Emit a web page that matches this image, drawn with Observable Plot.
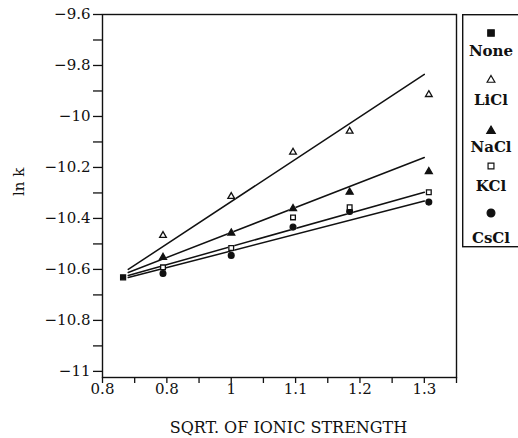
<!DOCTYPE html>
<html><head><meta charset="utf-8">
<script src="https://cdn.jsdelivr.net/npm/d3@7"></script>
<script src="https://cdn.jsdelivr.net/npm/@observablehq/plot@0.6"></script>
<style>
body{margin:0;background:#fff;}
#wrap{position:relative;width:518px;height:438px;overflow:hidden;background:#fff;}
#wrap > svg.chart{position:absolute;left:0;top:0;}
#wrap > svg#legend{position:absolute;left:462px;top:14px;}
</style></head><body><div id="wrap"></div>
<script>
// ---- data ----
const series = ["None", "LiCl", "NaCl", "KCl", "CsCl"];
const symbols = ["square", "triangle", "triangle", "square", "circle"];
const filled = [true, false, true, false, true];
const xNone = [0.832];
const yNone = [-10.631];
const xSalt = [0.894, 1.0, 1.096, 1.184, 1.307];
const yLiCl = [-10.467, -10.314, -10.140, -10.058, -9.914];
const yNaCl = [-10.553, -10.457, -10.361, -10.297, -10.216];
const yKCl  = [-10.592, -10.516, -10.396, -10.356, -10.297];
const yCsCl = [-10.616, -10.545, -10.434, -10.373, -10.336];
// fitted straight lines (start / end)
const fitX = [0.84, 1.30];
const fitLiCl = [-10.600, -9.835];
const fitNaCl = [-10.612, -10.161];
const fitKCl  = [-10.624, -10.297];
const fitCsCl = [-10.632, -10.332];
// ticks and titles
const xMajor = [0.8, 0.9, 1.0, 1.1, 1.2, 1.3];
const xLabels = ["0.8", "0.8", "1", "1.1", "1.2", "1.3"];
const xMinor = [0.85, 0.95, 1.05, 1.15, 1.25, 1.35];
const yMajor = [-9.6, -9.8, -10, -10.2, -10.4, -10.6, -10.8, -11];
const yLabels = ["\u22129.6", "\u22129.8", "\u221210", "\u221210.2", "\u221210.4", "\u221210.6", "\u221210.8", "\u221211"];
const yMinor = [-9.7, -9.9, -10.1, -10.3, -10.5, -10.7, -10.9];
const xTitle = "SQRT. OF IONIC STRENGTH";
const yTitle = "ln k";

// ---- build tables ----
const ySeries = {LiCl: yLiCl, NaCl: yNaCl, KCl: yKCl, CsCl: yCsCl};
const fits = {LiCl: fitLiCl, NaCl: fitNaCl, KCl: fitKCl, CsCl: fitCsCl};
const points = [{x: xNone[0], y: yNone[0], s: "None"}];
for (const s of ["LiCl", "NaCl", "KCl", "CsCl"]) xSalt.forEach((x, i) => points.push({x, y: ySeries[s][i], s}));
const lines = [];
for (const s of ["LiCl", "NaCl", "KCl", "CsCl"]) fitX.forEach((x, i) => lines.push({x, y: fits[s][i], s}));
const xLab = new Map(xMajor.map((v, i) => [v, xLabels[i]]));
const yLab = new Map(yMajor.map((v, i) => [v, yLabels[i]]));
const symOf = new Map(series.map((s, i) => [s, symbols[i]]));
const fillOf = new Map(series.map((s, i) => [s, filled[i]]));
const rOf = {None: 4.3, LiCl: 3.4, NaCl: 3.7, KCl: 3.9, CsCl: 4.6};

const font = "DejaVu Serif";
const chart = Plot.plot({
  width: 518, height: 438,
  marginLeft: 102, marginRight: 62, marginTop: 14, marginBottom: 61,
  style: {fontFamily: font, fontSize: "15px", color: "#111", background: "white"},
  x: {domain: [0.8, 1.35]},
  y: {domain: [-11.024, -9.6]},
  marks: [
    Plot.frame({stroke: "#111", strokeWidth: 1.4}),
    Plot.axisX(xMajor, {tickSize: 6, tickPadding: 0, tickFormat: d => xLab.get(d), label: null, strokeWidth: 1.3, fontSize: 15}),
    Plot.axisX(xMinor, {tickSize: 6, tickFormat: () => "", label: null, strokeWidth: 1.3}),
    Plot.axisY(yMajor, {tickSize: 9, tickPadding: 3, tickFormat: d => yLab.get(d), label: null, strokeWidth: 1.3, fontSize: 15}),
    Plot.axisY(yMinor, {tickSize: 9, tickFormat: () => "", label: null, strokeWidth: 1.3}),
    Plot.text([xTitle], {frameAnchor: "bottom", dy: 55, dx: 9, fontSize: 16, fill: "#111"}),
    Plot.text([yTitle], {frameAnchor: "left", dx: -83, rotate: -90, fontSize: 15, fill: "#111"}),
    Plot.line(lines, {x: "x", y: "y", z: "s", stroke: "#111", strokeWidth: 1.5}),
    // white halos to break the lines near the markers
    Plot.dot(points, {x: "x", y: "y", symbol: d => symOf.get(d.s), r: d => rOf[d.s] + 2.5, fill: "white", stroke: "none"}),
    Plot.dot(points, {x: "x", y: "y", symbol: d => symOf.get(d.s), r: d => rOf[d.s],
      fill: d => fillOf.get(d.s) ? "#111" : "white", stroke: "#111", strokeWidth: 1.3})
  ]
});
chart.classList.add("chart");
document.getElementById("wrap").appendChild(chart);

// ---- legend ----
const ns = "http://www.w3.org/2000/svg";
const lg = document.createElementNS(ns, "svg");
lg.setAttribute("id", "legend");
lg.setAttribute("width", 58); lg.setAttribute("height", 236);
lg.style.fontFamily = font;
const box = document.createElementNS(ns, "rect");
box.setAttribute("x", 0.7); box.setAttribute("y", 0.7); box.setAttribute("width", 70); box.setAttribute("height", 232);
box.setAttribute("fill", "white"); box.setAttribute("stroke", "#111"); box.setAttribute("stroke-width", 1.4);
lg.appendChild(box);
const markY = [19, 66, 117, 152, 199];
const textY = [42, 91, 138, 177, 229];
series.forEach((s, i) => {
  const p = document.createElementNS(ns, "path");
  const r = rOf[s] * 0.85;
  const sym = {square: d3.symbolSquare, triangle: d3.symbolTriangle, circle: d3.symbolCircle}[symbols[i]];
  p.setAttribute("d", d3.symbol(sym, Math.PI * r * r)());
  p.setAttribute("transform", `translate(29,${markY[i]})`);
  p.setAttribute("fill", filled[i] ? "#111" : "white");
  p.setAttribute("stroke", "#111"); p.setAttribute("stroke-width", 1.2);
  lg.appendChild(p);
  const t = document.createElementNS(ns, "text");
  t.setAttribute("x", 29); t.setAttribute("y", textY[i]);
  t.setAttribute("text-anchor", "middle");
  t.setAttribute("font-size", 15); t.setAttribute("font-weight", "bold"); t.setAttribute("fill", "#111");
  t.textContent = s;
  lg.appendChild(t);
});
document.getElementById("wrap").appendChild(lg);
</script>
</body></html>
